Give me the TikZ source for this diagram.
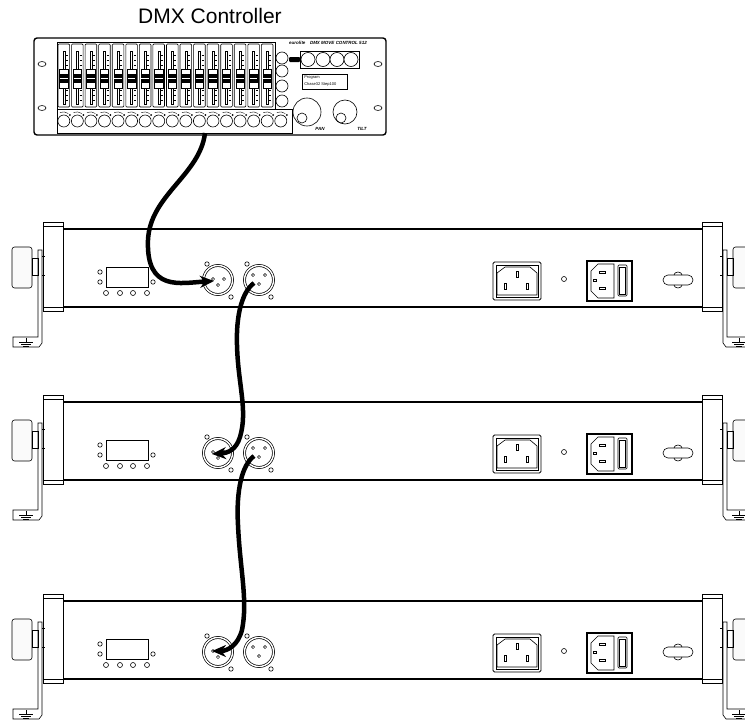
\documentclass[tikz,border=0pt]{standalone}
\usepackage{fontspec}
\setmainfont{Liberation Sans}
\usetikzlibrary{arrows.meta,calc}

\tikzstyle{cable} = [line width=4.5pt, -{Stealth[length=14pt,width=12pt]}]
\tikzstyle{xlr} = [circle, draw, fill=white, double, double distance=1.4pt, line width=0.7pt, minimum size=29pt, inner sep=0pt]
\tikzstyle{tinytext} = [font=\fontsize{4}{4.5}\selectfont, inner sep=0pt]
\tikzstyle{tinybold} = [font=\fontsize{4.5}{5}\selectfont\bfseries\itshape, inner sep=0pt]

% end cap with clamp bracket (left side, mirrored for the right)
\newcommand{\drawbracket}{%
  \draw (43,-7) rectangle (63,82);
  \draw (43,-3) -- (63,-3) (43,78) -- (63,78);
  % knob
  \draw[rounded corners=2.5pt, fill=gray!4] (12,18) rectangle (32,59);
  \draw (32,29) rectangle (38,46);
  % plate and foot
  \draw (38,21) -- (42,21) -- (42,114) -- (39,118) -- (13,118) -- (13,108) -- (38,108) -- cycle;
  \draw (42,27) -- (45,27) (42,46) -- (45,46);
  \draw (26,109) -- (26,113) (19,113) -- (33,113) (21,115) -- (31,115) (23,117) -- (29,117);
}

% one light bar, #1 = name, #2 = top of housing
\newcommand{\drawfixture}[2]{%
\begin{scope}[shift={(0,#2)}]
% housing
\draw[line width=1.1pt] (63,0) -- (702,0) (63,78) -- (702,78);
\drawbracket
\begin{scope}[xshift=765pt,xscale=-1]
\drawbracket
\end{scope}
% display and keys
\draw[line width=1pt] (106,38) rectangle (148,58);
\foreach \bx in {106,120,133,147} \draw (\bx,64) circle (2.5);
\draw (100,43) circle (2.2) (100,53) circle (2.2) (153,53) circle (2.2);
% DMX in / out
\node[xlr] (in#1) at (218,51) {};
\node[xlr] (out#1) at (259,51) {};
\foreach \hx/\hy in {207/35,231/68,247/35,271/68} \draw (\hx,\hy) circle (2.2);
\foreach \px/\py in {213/50,224/50,218/56,253/46,265/46,259/55} \draw[line width=0.5pt] (\px,\py) circle (1.6);
% mains inlet
\draw[rounded corners=1.5pt, line width=0.8pt] (493,33) rectangle (541,71);
\draw (496,36) rectangle (538,68);
\draw (497,66) -- (497,44) -- (505,38) -- (530,38) -- (537,44) -- (537,66) -- cycle;
\draw (516,42) rectangle (518,48) (504,54) rectangle (506,60) (526,54) rectangle (528,60);
\draw (564,50) circle (2.5);
% mains outlet with switch
\draw[line width=1.4pt] (587,32) rectangle (632,72);
\draw (614,35) -- (598,35) -- (591,42) -- (591,62) -- (598,69) -- (614,69) -- cycle;
\draw (599,42) rectangle (605,44) (599,58) rectangle (605,60) (593,50.5) rectangle (596,52.5);
\draw[rounded corners=1pt] (618,36) rectangle (627,67);
\draw (619.5,38) rectangle (625.5,65);
% safety slot
\draw[rounded corners=5pt] (663,46) rectangle (693,56);
\draw (674,46) arc[start angle=180, end angle=360, x radius=4, y radius=3];
\draw (674,56) arc[start angle=180, end angle=0, x radius=4, y radius=3];
\end{scope}
}

\begin{document}
\begin{tikzpicture}[x=1pt,y=-1pt,line width=0.6pt]
\useasboundingbox (0,0) rectangle (745,720);
\clip (0,0) rectangle (745,720);

% Controller
\node[font=\fontsize{21}{25}\selectfont] (title) at (210,16) {DMX Controller};
\node[draw, line width=1.4pt, rounded corners=3pt, minimum width=352pt, minimum height=97pt, inner sep=0pt] (ctrl) at (210,86.5) {};
\foreach \ox in {42,378} \foreach \oy in {64,108} \draw (\ox,\oy) ellipse (4 and 2.5);

% Faders
\draw (57,42) rectangle (275,109);
\foreach \i in {0,...,15} {
  \pgfmathsetmacro{\fx}{57+13.56*\i}
  \draw[rounded corners=1pt] (\fx+1,44) rectangle (\fx+12.6,107);
  \draw[line width=0.4pt] (\fx+5.8,51) rectangle (\fx+7.8,104);
  \foreach \ty in {55,60,...,100} \draw[line width=0.3pt] (\fx+9,\ty) -- (\fx+11,\ty);
  \draw[fill=white] (\fx+2.6,69) rectangle (\fx+11,88);
  \fill (\fx+2.6,74) rectangle (\fx+11,83);
  \draw[white, line width=0.5pt] (\fx+3,78.5) -- (\fx+10.6,78.5);
}

% Buttons
\draw (57,109) rectangle (292,133);
\foreach \i in {0,...,16} {
  \pgfmathsetmacro{\cx}{63.8+13.56*\i}
  \draw (\cx,121) circle (6);
  \draw[line width=0.4pt] (\cx-4,112.5) to[bend left=25] (\cx+4.5,113.5);
  \fill (\cx+6,115) circle (1);
}
\foreach \cy in {58,71,86,101} \draw (282,\cy) circle (6);
\fill[rounded corners=1pt] (289,57) rectangle (300,62);
\draw (300,51) rectangle (359,68);
\foreach \cx in {308,323,337,351} \draw[fill=white] (\cx,59.5) circle (7);

% LCD
\draw (302,74) rectangle (347,89);
\node[tinytext, anchor=west] (lcd1) at (304,78) {Program};
\node[tinytext, anchor=west] (lcd2) at (304,84) {Chase32 Step100};
\node[tinybold] (brand) at (328,43) {eurolite\quad DMX MOVE CONTROL 512};

% Pan / tilt
\draw (307,112) circle (14);
\draw (302,118) circle (5);
\draw (345,112) circle (12);
\draw (341,118) circle (5);
\node[tinybold] (pan) at (320,129) {PAN};
\node[tinybold] (tilt) at (362,129) {TILT};

% Light bars
\drawfixture{1}{229}
\drawfixture{2}{402}
\drawfixture{3}{601}

% DMX cables
\coordinate (dmx-out) at (205,133);
\draw[cable] (dmx-out) .. controls (200,175) and (150,195) .. (148,240)
  .. controls (146,292) and (180,283) .. ($(in1.center)+(-4,1)$);
\draw[cable] ($(out1.center)+(-5,3)$) .. controls (242,292) and (236,315) .. (237,345)
  .. controls (238,385) and (248,410) .. (240,437)
  .. controls (236,450) and (228,453) .. ($(in2.center)+(-6,1)$);
\draw[cable] ($(out2.center)+(-5,3)$) .. controls (242,465) and (236,490) .. (238,525)
  .. controls (240,570) and (248,600) .. (242,630)
  .. controls (238,645) and (228,651) .. ($(in3.center)+(-6,-1)$);
\end{tikzpicture}
\end{document}
